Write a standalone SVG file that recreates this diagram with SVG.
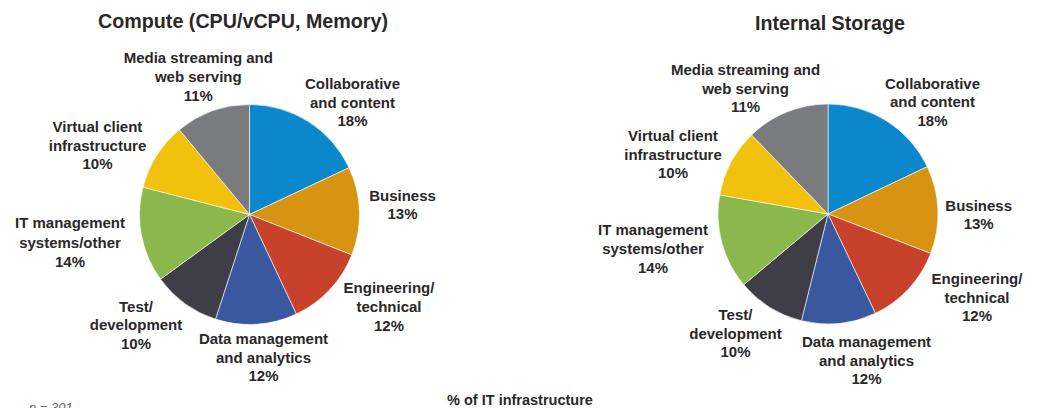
<svg xmlns="http://www.w3.org/2000/svg" width="1037" height="408" viewBox="0 0 1037 408">
<style>
  text { font-family: "Liberation Sans", Arial, Helvetica, sans-serif; fill: #2a2829; text-anchor: middle; }
  .title { font-size: 19.7px; font-weight: bold; }
  .lbl { font-size: 15px; font-weight: bold; }
  .note { font-size: 13px; font-style: italic; fill: #666; text-anchor: start; }
  .slice { stroke: #ffffff; stroke-width: 0.6; stroke-linejoin: round; }
  .c1 { fill: #0A88CB; } .c2 { fill: #D69412; } .c3 { fill: #C8412A; } .c4 { fill: #3A58A0; }
  .c5 { fill: #3F3E47; } .c6 { fill: #8BB84D; } .c7 { fill: #F1C10D; } .c8 { fill: #7A7B7F; }
</style>
<rect width="1037" height="408" fill="#ffffff"/>

<g id="compute-chart">
  <text class="title" x="243" y="28">Compute (CPU/vCPU, Memory)</text>
  <g id="c-collab"><path class="slice c1" d="M249.5,214.5 L249.5,104.5 A110,110 0 0 1 349.03,167.66 Z"/>
    <text class="lbl" x="352.5" y="89.3">Collaborative<tspan x="352.5" dy="18.2">and content</tspan><tspan x="352.5" dy="18.2">18%</tspan></text></g>
  <g id="c-business"><path class="slice c2" d="M249.5,214.5 L349.03,167.66 A110,110 0 0 1 351.78,254.99 Z"/>
    <text class="lbl" x="402.5" y="200.7">Business<tspan x="402.5" dy="18.6">13%</tspan></text></g>
  <g id="c-engineering"><path class="slice c3" d="M249.5,214.5 L351.78,254.99 A110,110 0 0 1 296.34,314.03 Z"/>
    <text class="lbl" x="389" y="293.3">Engineering/<tspan x="389" dy="18.8">technical</tspan><tspan x="389" dy="18.6">12%</tspan></text></g>
  <g id="c-data"><path class="slice c4" d="M249.5,214.5 L296.34,314.03 A110,110 0 0 1 215.51,319.12 Z"/>
    <text class="lbl" x="263.5" y="344">Data management<tspan x="263.5" dy="18.5">and analytics</tspan><tspan x="263.5" dy="18.6">12%</tspan></text></g>
  <g id="c-test"><path class="slice c5" d="M249.5,214.5 L215.51,319.12 A110,110 0 0 1 160.51,279.16 Z"/>
    <text class="lbl" x="136" y="311.7">Test/<tspan x="136" dy="18.2">development</tspan><tspan x="136" dy="18.8">10%</tspan></text></g>
  <g id="c-itmgmt"><path class="slice c6" d="M249.5,214.5 L160.51,279.16 A110,110 0 0 1 142.95,187.14 Z"/>
    <text class="lbl" x="70" y="228.3">IT management<tspan x="70" dy="19.2">systems/other</tspan><tspan x="70" dy="19">14%</tspan></text></g>
  <g id="c-virtual"><path class="slice c7" d="M249.5,214.5 L142.95,187.14 A110,110 0 0 1 179.39,129.74 Z"/>
    <text class="lbl" x="97.5" y="131.7">Virtual client<tspan x="97.5" dy="19">infrastructure</tspan><tspan x="97.5" dy="18.6">10%</tspan></text></g>
  <g id="c-media"><path class="slice c8" d="M249.5,214.5 L179.39,129.74 A110,110 0 0 1 249.5,104.5 Z"/>
    <text class="lbl" x="198.3" y="63.3">Media streaming and<tspan x="198.3" dy="18.8">web serving</tspan><tspan x="198.3" dy="18.6">11%</tspan></text></g>
</g>

<g id="storage-chart">
  <text class="title" x="830" y="29.5">Internal Storage</text>
  <g id="s-collab"><path class="slice c1" d="M828,214 L828,104 A110,110 0 0 1 927.29,166.64 Z"/>
    <text class="lbl" x="932.5" y="89">Collaborative<tspan x="932.5" dy="18.4">and content</tspan><tspan x="932.5" dy="18.6">18%</tspan></text></g>
  <g id="s-business"><path class="slice c2" d="M828,214 L927.29,166.64 A110,110 0 0 1 930.70,253.42 Z"/>
    <text class="lbl" x="978.7" y="211">Business<tspan x="978.7" dy="18.2">13%</tspan></text></g>
  <g id="s-engineering"><path class="slice c3" d="M828,214 L930.70,253.42 A110,110 0 0 1 875.36,313.29 Z"/>
    <text class="lbl" x="977" y="284">Engineering/<tspan x="977" dy="18.7">technical</tspan><tspan x="977" dy="18.2">12%</tspan></text></g>
  <g id="s-data"><path class="slice c4" d="M828,214 L875.36,313.29 A110,110 0 0 1 801.39,320.73 Z"/>
    <text class="lbl" x="866.5" y="346.7">Data management<tspan x="866.5" dy="19">and analytics</tspan><tspan x="866.5" dy="18.4">12%</tspan></text></g>
  <g id="s-test"><path class="slice c5" d="M828,214 L801.39,320.73 A110,110 0 0 1 743.74,284.71 Z"/>
    <text class="lbl" x="735.5" y="320">Test/<tspan x="735.5" dy="19">development</tspan><tspan x="735.5" dy="18.3">10%</tspan></text></g>
  <g id="s-itmgmt"><path class="slice c6" d="M828,214 L743.74,284.71 A110,110 0 0 1 719.67,194.90 Z"/>
    <text class="lbl" x="653" y="235">IT management<tspan x="653" dy="19">systems/other</tspan><tspan x="653" dy="18.7">14%</tspan></text></g>
  <g id="s-virtual"><path class="slice c7" d="M828,214 L719.67,194.90 A110,110 0 0 1 751.58,134.88 Z"/>
    <text class="lbl" x="673" y="140.7">Virtual client<tspan x="673" dy="19.2">infrastructure</tspan><tspan x="673" dy="18.3">10%</tspan></text></g>
  <g id="s-media"><path class="slice c8" d="M828,214 L751.58,134.88 A110,110 0 0 1 828,104 Z"/>
    <text class="lbl" x="745.5" y="75">Media streaming and<tspan x="745.5" dy="19">web serving</tspan><tspan x="745.5" dy="18">11%</tspan></text></g>
</g>

<g id="connectors"></g>

<g id="footer">
  <text class="lbl" x="520" y="404.5" style="font-size:14.5px">% of IT infrastructure</text>
  <text class="note" x="29" y="412">n = 301</text>
</g>
</svg>
